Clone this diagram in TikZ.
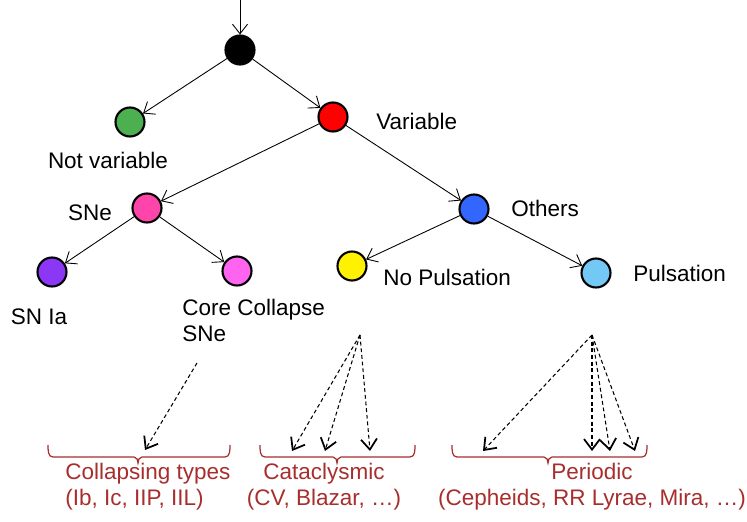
\documentclass[tikz,border=0pt]{standalone}
\usepackage{fontspec}
\setmainfont{Liberation Sans}
\usetikzlibrary{arrows.meta,positioning}
\definecolor{leafgreen}{RGB}{76,175,80}
\definecolor{snpink}{RGB}{255,68,170}
\definecolor{othblue}{RGB}{51,102,255}
\definecolor{iapurple}{RGB}{140,55,245}
\definecolor{ccviolet}{RGB}{255,100,240}
\definecolor{pulsblue}{RGB}{115,200,245}
\definecolor{bracered}{RGB}{168,45,45}
\newcommand{\typebrace}[3]{%
  \draw[bracered, line width=0.7pt] (#1,445) to[out=-90,in=180] ({#1+5},457) -- ({#3-4},457)
    to[out=0,in=90] (#3,463) to[out=90,in=180] ({#3+4},457) -- ({#2-5},457) to[out=0,in=-90] (#2,445);}

\begin{document}
\begin{tikzpicture}[x=0.02cm, y=-0.02cm,
    state/.style={circle, draw=black, line width=1.2pt, minimum size=0.58cm, inner sep=0pt},
    lbl/.style={font=\fontsize{12.8}{14.8}\selectfont, inner sep=0pt},
    cls/.style={lbl, text=bracered},
    edge/.style={-{Straight Barb[length=1.9mm,width=3mm]}, line width=0.5pt},
    hint/.style={-{Straight Barb[length=2.1mm,width=3.2mm,line width=1pt]}, dash pattern=on 2.2pt off 1.6pt, line width=0.6pt}]
  \useasboundingbox (0,0) rectangle (747,521);
  % decision tree
  \coordinate (in) at (240,0);
  \node[state, fill=black] (root) at (240,50) {};
  \node[state, fill=leafgreen] (notvar) at (130,122) {};
  \node[state, fill=red] (var) at (333,117) {};
  \node[state, fill=snpink] (sne) at (147,208) {};
  \node[state, fill=othblue] (oth) at (474,209) {};
  \node[state, fill=iapurple] (snia) at (52,272) {};
  \node[state, fill=ccviolet] (ccsn) at (237,271) {};
  \node[state, fill=yellow] (nopuls) at (352,266) {};
  \node[state, fill=pulsblue] (puls) at (596,273) {};
  \node[lbl] (notvarlbl) at (108,160) {Not variable};
  \node[lbl, anchor=west] (varlbl) at (376,121) {Variable};
  \node[lbl] (snelbl) at (90,213) {SNe};
  \node[lbl, anchor=west] (othlbl) at (511,208) {Others};
  \node[lbl] (snialbl) at (39,317) {SN Ia};
  \node[lbl, anchor=north west, align=left] (ccsnlbl) at (182,299) {Core Collapse\\SNe};
  \node[lbl, anchor=west] (nopulslbl) at (383,277) {No Pulsation};
  \node[lbl, anchor=west] (pulslbl) at (633,273) {Pulsation};
  \draw[edge] (in) -- (root);
  \draw[edge] (root) -- (notvar);
  \draw[edge] (root) -- (var);
  \draw[edge] (var) -- (sne);
  \draw[edge] (var) -- (oth);
  \draw[edge] (sne) -- (snia);
  \draw[edge] (sne) -- (ccsn);
  \draw[edge] (oth) -- (nopuls);
  \draw[edge] (oth) -- (puls);
  % classes below
  \typebrace{48}{230}{138}
  \typebrace{260}{415}{337}
  \typebrace{452}{647}{548}
  \node[cls, align=left, anchor=north west] (colltypes) at (65,463) {Collapsing types\\(Ib, Ic, IIP, IIL)};
  \node[cls, align=center, anchor=north] (catacl) at (324,463) {Cataclysmic\\(CV, Blazar, …)};
  \node[cls, align=center, anchor=north] (period) at (592,463) {Periodic\\(Cepheids, RR Lyrae, Mira, …)};
  \coordinate (ccsrc) at (197,363);
  \coordinate (catsrc) at (360,335);
  \coordinate (persrc) at (592,335);
  \draw[hint] (ccsrc) -- (145,450);
  \foreach \tx in {292,325,370}
    \draw[hint] (catsrc) -- (\tx,451);
  \foreach \tx in {483,592,610,635}
    \draw[hint] (persrc) -- (\tx,451);
\end{tikzpicture}
\end{document}
